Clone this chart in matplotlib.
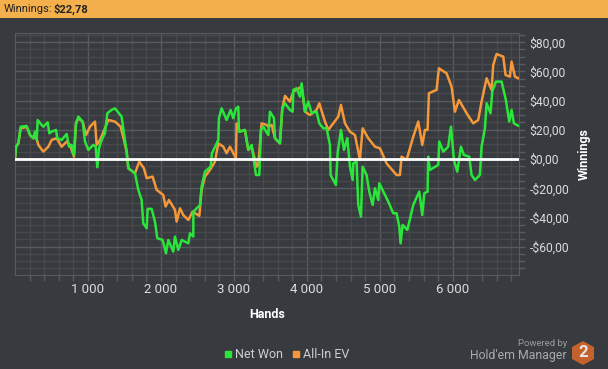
import matplotlib
matplotlib.use('Agg')
import matplotlib.pyplot as plt
from matplotlib.lines import Line2D
from matplotlib.patches import Circle, Polygon, Rectangle

# Values
net_hands = [0, 14, 46, 78, 160, 206, 251, 274, 297, 311, 365, 388, 448, 470, 502, 562, 580, 639, 708, 740,
             776, 808, 836, 868, 927, 959, 1005, 1073, 1105, 1128, 1151, 1187, 1233, 1265, 1324, 1370, 1461, 1493, 1530, 1553,
             1644, 1690, 1735, 1758, 1804, 1818, 1872, 1918, 1950, 2023, 2069, 2101, 2169, 2192, 2238, 2284, 2375, 2398, 2443, 2445,
             2535, 2557, 2603, 2681, 2699, 2786, 2795, 2832, 2900, 2955, 2991, 3028, 3060, 3069, 3151, 3197, 3243, 3302, 3348, 3370,
             3402, 3471, 3494, 3549, 3563, 3631, 3663, 3700, 3768, 3805, 3814, 3859, 3905, 3928, 3974, 4019, 4065, 4133, 4170, 4225,
             4270, 4316, 4325, 4398, 4421, 4467, 4508, 4554, 4590, 4627, 4636, 4681, 4704, 4741, 4764, 4818, 4855, 4901, 4933, 4978,
             4992, 5115, 5184, 5229, 5266, 5284, 5312, 5376, 5421, 5458, 5540, 5581, 5609, 5654, 5663, 5686, 5800, 5814, 5869, 5937,
             5974, 6015, 6061, 6111, 6152, 6225, 6257, 6303, 6371, 6394, 6440, 6463, 6517, 6540, 6590, 6668, 6727, 6773, 6805, 6837,
             6896]
net_won = [0, 8.4, 10.7, 22.1, 22.6, 16.4, 14.2, 18.7, 13, 26.7, 23.3, 22.1, 25.1, 17.6, 18.7, 19.9, 14.2, 13, 17.1, 8.4,
           9.6, 2.7, 24.4, 29, 25.6, 11.9, 6.2, 9.6, 8.4, -5.7, 7.3, 13, 17.6, 31.3, 33.6, 34.7, 29, 17.6, 5, -6.4,
           -9.8, -21.2, -28.1, -44.1, -47.5, -34.2, -34.2, -42.9, -54.3, -55.5, -64.6, -55.5, -63.5, -53.2, -62.3, -55.5, -57.8, -50.9, -53.2, -36.1,
           -31.5, -18.9, -8.7, -5.3, 3.9, 13, 27.9, 34.7, 26.7, 33.6, 27.9, 34.7, 35.8, 18.7, 19.9, 6.2, 9.6, -11, -11, 19.9,
           22.1, 16.4, 32.4, 27.9, 14.2, 10.7, 34.7, 38.1, 33.6, 32.4, 47.3, 48.4, 42.7, 51.8, 32.4, 39.3, 31.3, 32.4, 24.4, 21,
           21, 9.6, -11, -17.8, 3.9, 19.9, 6.2, 14.2, -5.3, -14.4, -3, -1.8, -31.5, -39.5, -5.3, -11, -22.4, -31.5, -20.1, -28.1,
           -16.7, -29.2, -37.2, -37.2, -46.3, -57.8, -45.2, -48.6, -39.5, -31.5, -22.4, -38.4, -23.5, -22.4, 1.6, -7.5, -4.1, 11.9, 5, 8.4,
           22.1, -0.7, -8.7, 8.4, 2.7, 1.6, -11, -14.4, -11, 8.4, 21, 38.1, 31.3, 46.1, 53, 53, 40.4, 25.6, 33.6, 24.4,
           22.78]

ev_hands = [0, 14, 46, 78, 160, 206, 251, 288, 320, 388, 457, 502, 571, 639, 708, 754, 808, 836, 868, 927,
            973, 1028, 1096, 1119, 1165, 1233, 1279, 1370, 1448, 1493, 1530, 1553, 1644, 1703, 1767, 1804, 1886, 1941, 2032, 2064,
            2110, 2192, 2215, 2261, 2306, 2375, 2434, 2526, 2557, 2603, 2672, 2740, 2786, 2854, 2900, 2946, 3028, 3037, 3083, 3151,
            3197, 3243, 3311, 3334, 3380, 3448, 3471, 3517, 3563, 3631, 3663, 3700, 3768, 3814, 3928, 3974, 4042, 4133, 4170, 4248,
            4293, 4362, 4430, 4467, 4522, 4590, 4659, 4727, 4764, 4841, 4933, 5001, 5092, 5229, 5275, 5298, 5366, 5412, 5458, 5526,
            5581, 5618, 5654, 5672, 5777, 5809, 5914, 5983, 6029, 6084, 6189, 6280, 6348, 6394, 6463, 6531, 6554, 6599, 6691, 6723,
            6782, 6805, 6851, 6896]
all_in_ev = [0, 8.4, 10.7, 21, 22, 16.4, 14.2, 15.3, 9.6, 5, 8.4, 13, 14.2, 8.4, 11.9, 9.6, 1.6, 24.4, 27.9, 25.6,
             16.4, 22.1, 25.6, 9.6, 13, 21, 26.7, 25.6, 22.1, 13, 5, -6.4, -9.8, -1.8, -6.4, -13.2, -12.1, -21.2, -24.7, -32.6,
             -28.1, -34.9, -42.9, -33.8, -38.4, -41.8, -36.1, -39, -21.2, -12.1, -7.5, -1.8, 10.7, 8.4, 3.9, 8.4, 0.5, 24.4, 18.7, 19.9,
             6.2, 8.4, -5.3, -4.1, 24.4, 23.3, 22.1, 23.3, 14.2, 10.7, 34.7, 43.2, 39.3, 46.1, 49.5, 32.4, 30.1, 33.6, 38.1, 25.6,
             19.9, 24.4, 29, 37, 24.4, 18.7, 16.4, -0.7, 21, 14.2, 8.4, 7.3, -3, -11, -11, 1.6, -0.7, 7.3, 15.3, 25.6,
             9.6, 19.9, 19.9, 45, 47.3, 62.1, 58.7, 49.5, 32.4, 40.4, 31.3, 24.4, 26.7, 39.3, 55.3, 47.3, 64.4, 71.9, 70.1, 57.5,
             56.4, 66.7, 56.4, 55.3]

x_ticks = [1000, 2000, 3000, 4000, 5000, 6000]
x_labels = ['1 000', '2 000', '3 000', '4 000', '5 000', '6 000']
y_ticks = [-60, -40, -20, 0, 20, 40, 60, 80]
y_labels = ['-$60,00', '-$40,00', '-$20,00', '$0,00', '$20,00', '$40,00', '$60,00', '$80,00']

BG = '#373a3e'
GREEN = '#2ae63a'
ORANGE = '#f5983a'
plt.rcParams['font.family'] = ['Roboto', 'DejaVu Sans']

W, H = 608, 369
fig = plt.figure(figsize=(W / 100, H / 100), dpi=100, facecolor=BG)
ax = fig.add_axes([15 / W, 1 - 275 / H, 503.5 / W, 242 / H], facecolor=BG)

ax.plot(ev_hands, all_in_ev, color=ORANGE, lw=1.8, zorder=3)
ax.plot(net_hands, net_won, color=GREEN, lw=1.8, zorder=4)
ax.axhline(0, color='white', lw=2, zorder=5)

ax.set_xlim(0, 6900)
ax.set_ylim(-79.5, 86.3)
ax.set_xticks(x_ticks)
ax.set_xticklabels(x_labels)
ax.set_xticks(range(200, 6900, 200), minor=True)
ax.yaxis.tick_right()
ax.set_yticks(y_ticks)
ax.set_yticklabels(y_labels)
ax.set_yticks(range(-75, 86, 5), minor=True)

ax.grid(which='major', color='#585b5e', lw=1)
ax.grid(which='minor', color='#47494d', lw=1)
ax.set_axisbelow(True)
ax.tick_params(which='both', color='#585b5e', labelcolor='#dcdcdc', length=4, width=1)
ax.tick_params(axis='y', labelsize=8.7, pad=4)
ax.tick_params(axis='x', labelsize=9.5, pad=2)
for spine in ax.spines.values():
    spine.set_color('#585b5e')

# labels placed where the reference has them
fig.text(267 / W, 1 - 314 / H, 'Hands', color='white', fontsize=9, fontweight='bold', ha='center', va='center')
fig.text(584 / W, 1 - 154 / H, 'Winnings', color='white', fontsize=9, fontweight='bold', ha='center', va='center', rotation=90)

# header bar
fig.add_artist(Rectangle((0, 1 - 18 / H), 1, 18 / H, transform=fig.transFigure, color='#f4b04c', lw=0))
fig.text(4 / W, 1 - 9 / H, 'Winnings:', color='#222222', fontsize=8, ha='left', va='center')
fig.text(54 / W, 1 - 9 / H, '$22,78', color='#222222', fontsize=8, fontweight='bold', ha='left', va='center')

# help icon, drawn in pixels
px = fig.add_axes([0, 0, 1, 1], facecolor='none')
px.set_xlim(0, W)
px.set_ylim(H, 0)
px.axis('off')
px.add_patch(Circle((598.5, 8.5), 6.5, color='#1c66ad', lw=0))
px.text(598.5, 8.5, '?', color='white', fontsize=8, fontweight='bold', ha='center', va='center')

# legend
handles = [Line2D([], [], ls='none', marker='s', ms=5, color=GREEN),
           Line2D([], [], ls='none', marker='s', ms=5, color=ORANGE)]
fig.legend(handles, ['Net Won', 'All-In EV'], loc='center', bbox_to_anchor=(286 / W, 1 - 355 / H), ncol=2,
           frameon=False, labelcolor='#cfcfcf', fontsize=9, handlelength=0.8, handletextpad=0.2, columnspacing=0.6)

# Hold'em Manager logo
fig.text(567 / W, 1 - 343 / H, 'Powered by', color='#9a9c9e', fontsize=6.8, ha='right', va='center')
fig.text(567 / W, 1 - 356 / H, "Hold'em Manager", color='#a8aaac', fontsize=8.8, ha='right', va='center')
px.add_patch(Polygon([(583, 341), (594, 347), (594, 359), (583, 365), (572, 359), (572, 347)], color='#c4622d', lw=0))
px.text(583, 352.5, '2', color='#e8e8e8', fontsize=12, fontweight='bold', ha='center', va='center')

fig.savefig('out.png', dpi=100, facecolor=BG)
